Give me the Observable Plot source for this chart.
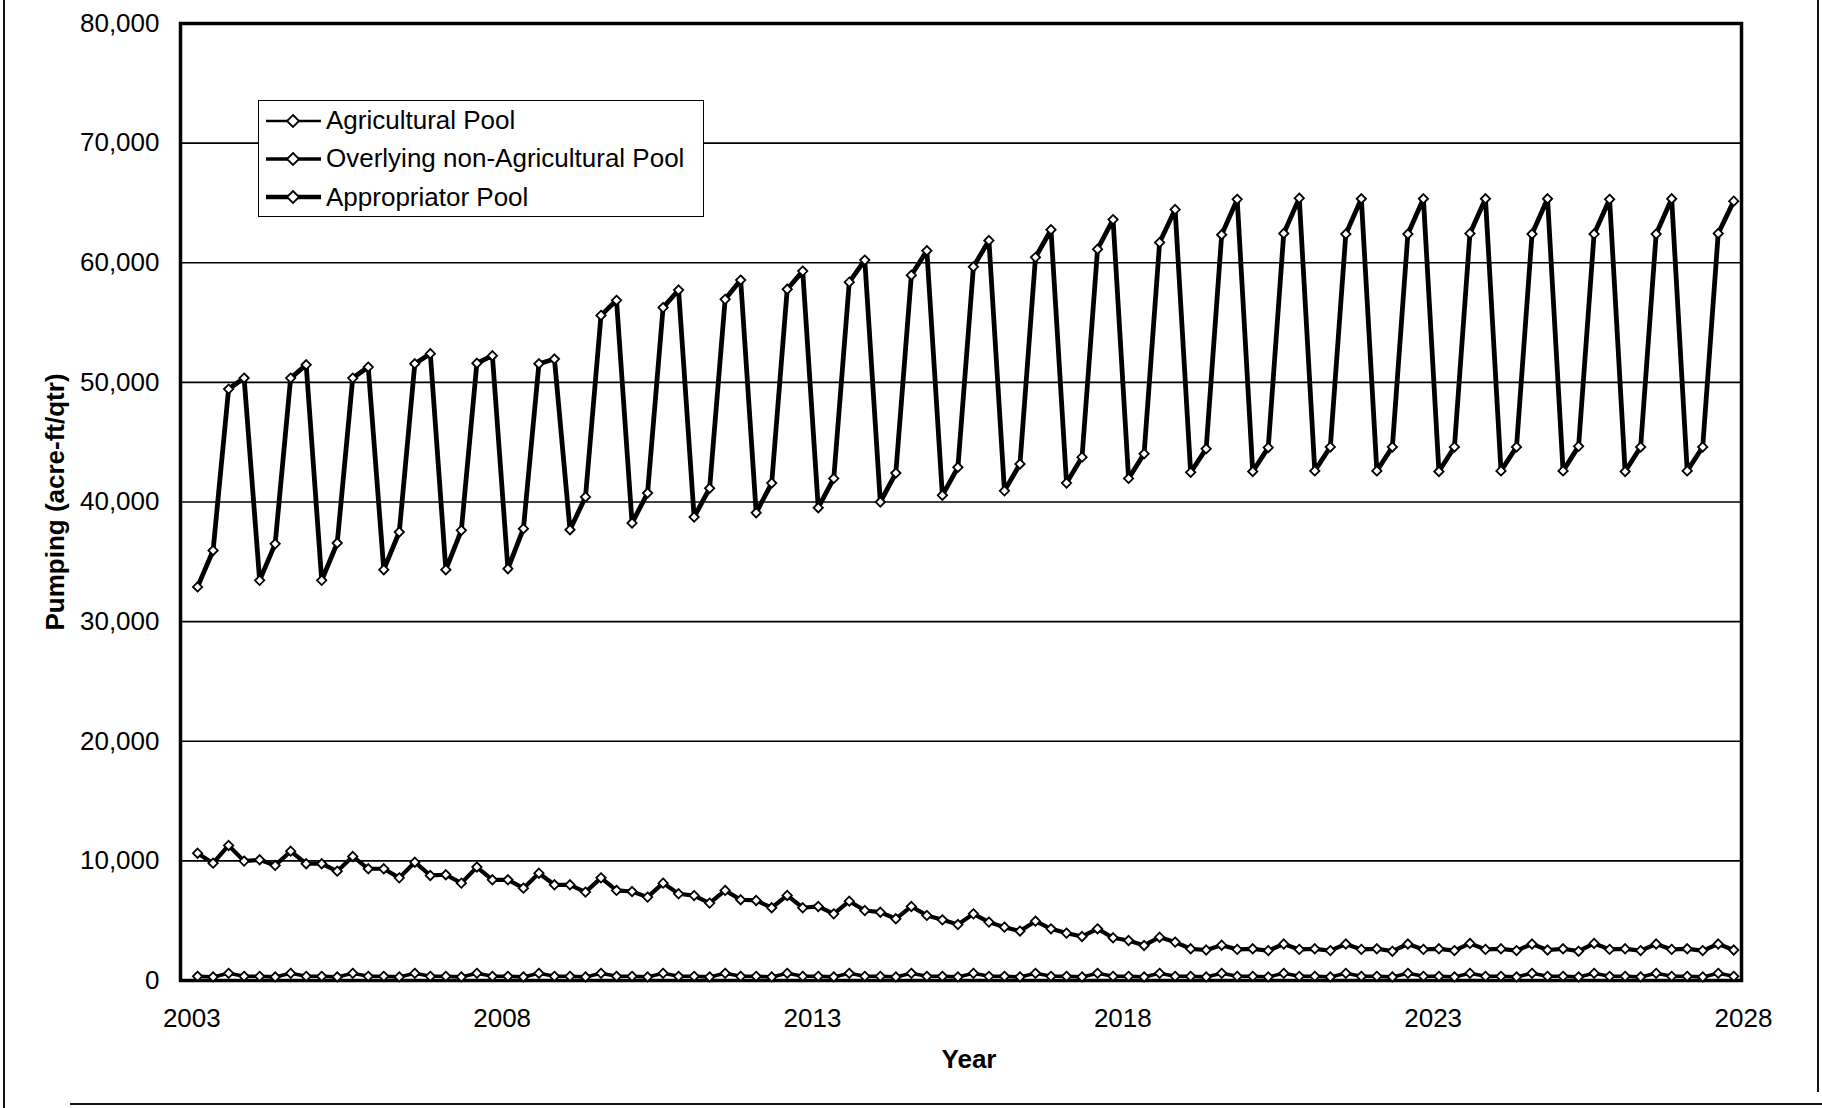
<!DOCTYPE html>
<html>
<head>
<meta charset="utf-8">
<script src="https://cdn.jsdelivr.net/npm/d3@7"></script>
<script src="https://cdn.jsdelivr.net/npm/@observablehq/plot@0.6"></script>
<style>
  html, body { margin: 0; padding: 0; background: #fff; }
  #wrap { position: relative; width: 1822px; height: 1108px; overflow: hidden;
          font-family: "Liberation Sans", Arial, sans-serif; color: #000; }
  #chart { position: absolute; left: 0; top: 0; }
  .legend { position: absolute; left: 258px; top: 100px; width: 446px; height: 117px;
            border: 1.5px solid #000; background: #fff; box-sizing: border-box; }
  .row { position: absolute; left: 6px; height: 39px; display: flex; align-items: center;
         font-size: 26px; white-space: nowrap; }
  .row svg { margin-right: 3px; }
  .edge { position: absolute; background: #111; }
</style>
</head>
<body>
<div id="wrap">
  <div id="chart"></div>
  <div class="legend" id="legend"></div>
  <div class="edge" style="left:3px;top:0;width:2px;height:1108px;"></div>
  <div class="edge" style="left:1817px;top:0;width:2px;height:1092px;"></div>
  <div class="edge" style="left:70px;top:1103px;width:1752px;height:2px;"></div>
</div>
<script>
// ---- data (quarterly pumping, acre-ft per quarter) ----
const years = [2003, 2004, 2005, 2006, 2007, 2008, 2009, 2010, 2011, 2012, 2013, 2014, 2015,
               2016, 2017, 2018, 2019, 2020, 2021, 2022, 2023, 2024, 2025, 2026, 2027];
const quarters = ["Q1", "Q2", "Q3", "Q4"];
const seriesNames = ["Agricultural Pool", "Overlying non-Agricultural Pool", "Appropriator Pool"];

const agricultural = [
  10640, 9810, 11290, 9980,
  10090, 9620, 10810, 9760,
  9760, 9140, 10370, 9340,
  9340, 8580, 9890, 8780,
  8840, 8140, 9480, 8420,
  8420, 7720, 8970, 8000,
  8000, 7390, 8580, 7530,
  7440, 6970, 8140, 7250,
  7100, 6470, 7530, 6750,
  6690, 6080, 7110, 6080,
  6190, 5570, 6630, 5850,
  5710, 5160, 6190, 5440,
  5070, 4680, 5570, 4880,
  4460, 4130, 4960, 4320,
  3960, 3680, 4320, 3570,
  3340, 2930, 3620, 3210,
  2650, 2550, 2950, 2600,
  2650, 2500, 3050, 2600,
  2650, 2500, 3050, 2600,
  2650, 2450, 3050, 2600,
  2650, 2500, 3100, 2600,
  2650, 2500, 3050, 2550,
  2650, 2450, 3100, 2600,
  2650, 2500, 3050, 2600,
  2650, 2500, 3050, 2550
];

const overlying = [
  350, 300, 600, 350,  350, 300, 600, 350,  350, 300, 600, 350,  350, 300, 600, 350,
  350, 300, 600, 350,  350, 300, 600, 350,  350, 300, 600, 350,  350, 300, 600, 350,
  350, 300, 600, 350,  350, 300, 600, 350,  350, 300, 600, 350,  350, 300, 600, 350,
  350, 300, 600, 350,  350, 300, 600, 350,  350, 300, 600, 350,  350, 300, 600, 350,
  350, 300, 600, 350,  350, 300, 600, 350,  350, 300, 600, 350,  350, 300, 600, 350,
  350, 300, 600, 350,  350, 300, 600, 350,  350, 300, 600, 350,  350, 300, 600, 350,
  350, 300, 600, 350
];

const appropriator = [
  32900, 35950, 49440, 50360,
  33450, 36500, 50360, 51470,
  33450, 36570, 50360, 51280,
  34340, 37490, 51560, 52400,
  34340, 37630, 51600, 52230,
  34420, 37770, 51560, 51950,
  37680, 40420, 55600, 56860,
  38240, 40750, 56250, 57720,
  38740, 41150, 56940, 58550,
  39100, 41580, 57780, 59300,
  39520, 41970, 58380, 60220,
  40000, 42420, 58960, 61010,
  40560, 42900, 59660, 61860,
  40930, 43180, 60450, 62760,
  41580, 43750, 61130, 63610,
  41970, 44030, 61690, 64450,
  42480, 44450, 62340, 65300,
  42550, 44550, 62450, 65400,
  42600, 44600, 62400, 65350,
  42600, 44600, 62400, 65350,
  42550, 44600, 62450, 65350,
  42600, 44600, 62400, 65350,
  42600, 44650, 62400, 65300,
  42550, 44600, 62400, 65350,
  42600, 44600, 62450, 65150
];

const xTicks = [2003, 2008, 2013, 2018, 2023, 2028];
const yTicks = [0, 10000, 20000, 30000, 40000, 50000, 60000, 70000, 80000];

// ---- build tidy table ----
const seriesValues = [agricultural, overlying, appropriator];
const rows = [];
seriesNames.forEach((name, s) => {
  seriesValues[s].forEach((v, i) => {
    const yr = years[Math.floor(i / 4)];
    const q = quarters.indexOf(quarters[i % 4]);
    rows.push({series: name, t: yr + (q + 0.5) / 4, v});
  });
});
const widths = {"Agricultural Pool": 4.2, "Overlying non-Agricultural Pool": 3.6, "Appropriator Pool": 4.8};

const lineMarks = seriesNames.map(name =>
  Plot.line(rows.filter(d => d.series === name),
    {x: "t", y: "v", stroke: "#000", strokeWidth: widths[name], strokeLinejoin: "round"}));

const chart = Plot.plot({
  width: 1822,
  height: 1108,
  marginLeft: 180,
  marginRight: 81,
  marginTop: 23,
  marginBottom: 128,
  style: {fontFamily: "'Liberation Sans', Arial, sans-serif", fontSize: "26px", color: "#000", background: "transparent"},
  x: {type: "linear", domain: [2002.85, 2028]},
  y: {domain: [0, 80000]},
  marks: [
    Plot.gridY(yTicks, {stroke: "#000", strokeOpacity: 1, strokeWidth: 1.6}),
    Plot.axisX(xTicks, {tickSize: 0, tickPadding: 28, dx: 2, tickFormat: d => String(d), label: null, fontSize: 26}),
    Plot.axisY(yTicks, {tickSize: 0, tickPadding: 21, tickFormat: d3.format(","), label: null, fontSize: 26}),
    Plot.frame({stroke: "#000", strokeWidth: 3.5}),
    ...lineMarks,
    Plot.dot(rows, {x: "t", y: "v", symbol: "diamond2", r: 4.2, fill: "#fff", stroke: "#000", strokeWidth: 1.8}),
    Plot.text(["Pumping (acre-ft/qtr)"], {frameAnchor: "left", textAnchor: "middle", rotate: -90, dx: -125, fontWeight: "bold", fontSize: 26, fill: "#000"}),
    Plot.text(["Year"], {frameAnchor: "bottom", dx: 8, dy: 87, fontWeight: "bold", fontSize: 26, fill: "#000"})
  ]
});
document.getElementById("chart").appendChild(chart);

// ---- legend ----
const legend = document.getElementById("legend");
const centers = [19.5, 57.5, 96];
seriesNames.forEach((name, i) => {
  const row = document.createElement("div");
  row.className = "row";
  row.style.top = (centers[i] - 19.5) + "px";
  const sw = [2.5, 3.5, 4.5][i];
  row.innerHTML =
    `<svg width="58" height="20"><line x1="1" y1="10" x2="56" y2="10" stroke="#000" stroke-width="${sw}"/>` +
    `<path d="M28,4 L34,10 L28,16 L22,10 Z" fill="#fff" stroke="#000" stroke-width="1.8"/></svg>` +
    `<span>${name}</span>`;
  legend.appendChild(row);
});
</script>
</body>
</html>
